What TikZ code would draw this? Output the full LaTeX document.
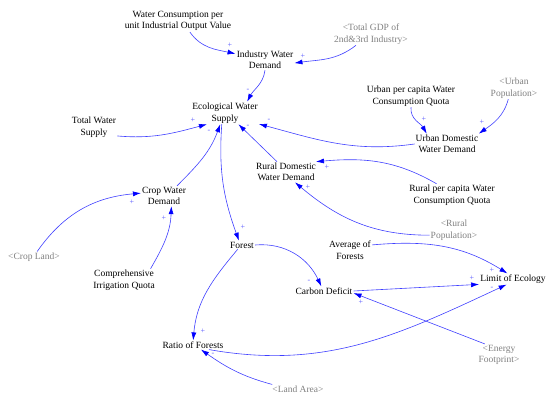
\documentclass[tikz,border=0pt]{standalone}
\usepackage{fontspec}
\setmainfont{Liberation Serif}
\usepackage{xcolor}
\usepackage{tikz}
\usetikzlibrary{positioning,arrows.meta}
\definecolor{linkblue}{RGB}{0,0,255}
\definecolor{shadowgray}{RGB}{128,128,128}

\begin{document}
\begin{tikzpicture}[x=1pt,y=1pt,
  var/.style={align=center, font=\fontsize{9.5}{11.5}\selectfont, inner sep=1pt},
  shadow/.style={var, text=shadowgray},
  link/.style={-{Latex[length=8pt,width=5pt,color=linkblue]}, draw=linkblue!75, line width=0.6pt},
  sgn/.style={text=linkblue!65, font=\fontsize{8}{8}\selectfont, inner sep=0pt}]
  \useasboundingbox (0,0) rectangle (550,-403);

  \node[var] (wcpu) at (178,-21) {Water Consumption per\\unit Industrial Output Value};
  \node[var] (ind) at (265,-60) {Industry Water\\Demand};
  \node[shadow] (gdp) at (371,-34) {<Total GDP of\\2nd\&3rd Industry>};
  \node[var] (eco) at (225,-113) {Ecological Water\\Supply};
  \node[var] (tws) at (94,-127) {Total Water\\Supply};
  \node[var] (ucq) at (411,-96) {Urban per capita Water\\Consumption Quota};
  \node[shadow] (upop) at (514,-88) {<Urban\\Population>};
  \node[var] (udw) at (447,-144) {Urban Domestic\\Water Demand};
  \node[var] (rdw) at (286,-172) {Rural Domestic\\Water Demand};
  \node[var] (rcq) at (452,-195) {Rural per capita Water\\Consumption Quota};
  \node[shadow] (rpop) at (454,-230) {<Rural\\Population>};
  \node[var] (cwd) at (164,-196) {Crop Water\\Demand};
  \node[shadow] (crop) at (34,-257) {<Crop Land>};
  \node[var] (ciq) at (124,-280) {Comprehensive\\Irrigation Quota};
  \node[var] (forest) at (242,-245) {Forest};
  \node[var] (avg) at (350,-250) {Average of\\Forests};
  \node[var] (limit) at (513,-279) {Limit of Ecology};
  \node[var] (carbon) at (324,-291) {Carbon Deficit};
  \node[shadow] (energy) at (499,-355) {<Energy\\Footprint>};
  \node[var] (ratio) at (193,-345) {Ratio of Forests};
  \node[shadow] (land) at (298,-389) {<Land Area>};

  % causal links
  \draw[link] (wcpu.-43) to[out=-55,in=168] (ind.168);
  \draw[link] (gdp.217) to[out=218,in=8] (ind.-6);
  \draw[link] (ind.south) to[out=262,in=62] (eco.27);
  \draw[link] (tws.-21) to[out=-5,in=195] (eco.212);
  \draw[link] (cwd.38) to[out=45,in=250] (eco.247);
  \draw[link] (eco.254) to[out=266,in=110] (forest.125);
  \draw[link] (rdw.131) -- (eco.-40);
  \draw[link] (udw.west) to[out=188,in=-15] (eco.-18);
  \draw[link] (ucq.south) to[out=265,in=120] (udw.153);
  \draw[link] (upop.243) to[out=255,in=35] (udw.18);
  \draw[link] (rcq.144) to[out=150,in=5] (rdw.19);
  \draw[link] (rpop.192) to[out=180,in=-40] (rdw.-49);
  \draw[link] (crop.60) to[out=55,in=185] (cwd.173);
  \draw[link] (ciq.23) to[out=60,in=268] (cwd.-54);
  \draw[link] (forest.east) to[out=5,in=115] (carbon.120);
  \draw[link] (forest.225) to[out=230,in=85] (ratio.88);
  \draw[link] (avg.13) to[out=5,in=148] (limit.135);
  \draw[link] (carbon.east) -- (limit.189);
  \draw[link] (energy.142) -- (carbon.-4);
  \draw[link] (ratio.-16) to[out=-10,in=205] (limit.221);
  \draw[link] (land.170) to[out=165,in=-35] (ratio.-30);

  % polarities
  \node[sgn] (p1) at (230,-45) {+};
  \node[sgn] (p2) at (303,-56) {+};
  \node[sgn] (p3) at (248,-90) {-};
  \node[sgn] (p4) at (193,-120) {+};
  \node[sgn] (p5) at (209,-131) {-};
  \node[sgn] (p6) at (243,-227) {+};
  \node[sgn] (p7) at (248,-126) {-};
  \node[sgn] (p8) at (269,-120) {-};
  \node[sgn] (p9) at (424,-119) {+};
  \node[sgn] (p10) at (482,-122) {+};
  \node[sgn] (p11) at (327,-167) {+};
  \node[sgn] (p12) at (308,-187) {+};
  \node[sgn] (p13) at (132,-202) {+};
  \node[sgn] (p14) at (164,-218) {+};
  \node[sgn] (p15) at (309,-281) {-};
  \node[sgn] (p16) at (203,-331) {+};
  \node[sgn] (p17) at (492,-270) {+};
  \node[sgn] (p18) at (472,-278) {+};
  \node[sgn] (p19) at (361,-302) {+};
  \node[sgn] (p20) at (492,-288) {-};
  \node[sgn] (p21) at (213,-354) {-};
\end{tikzpicture}
\end{document}
